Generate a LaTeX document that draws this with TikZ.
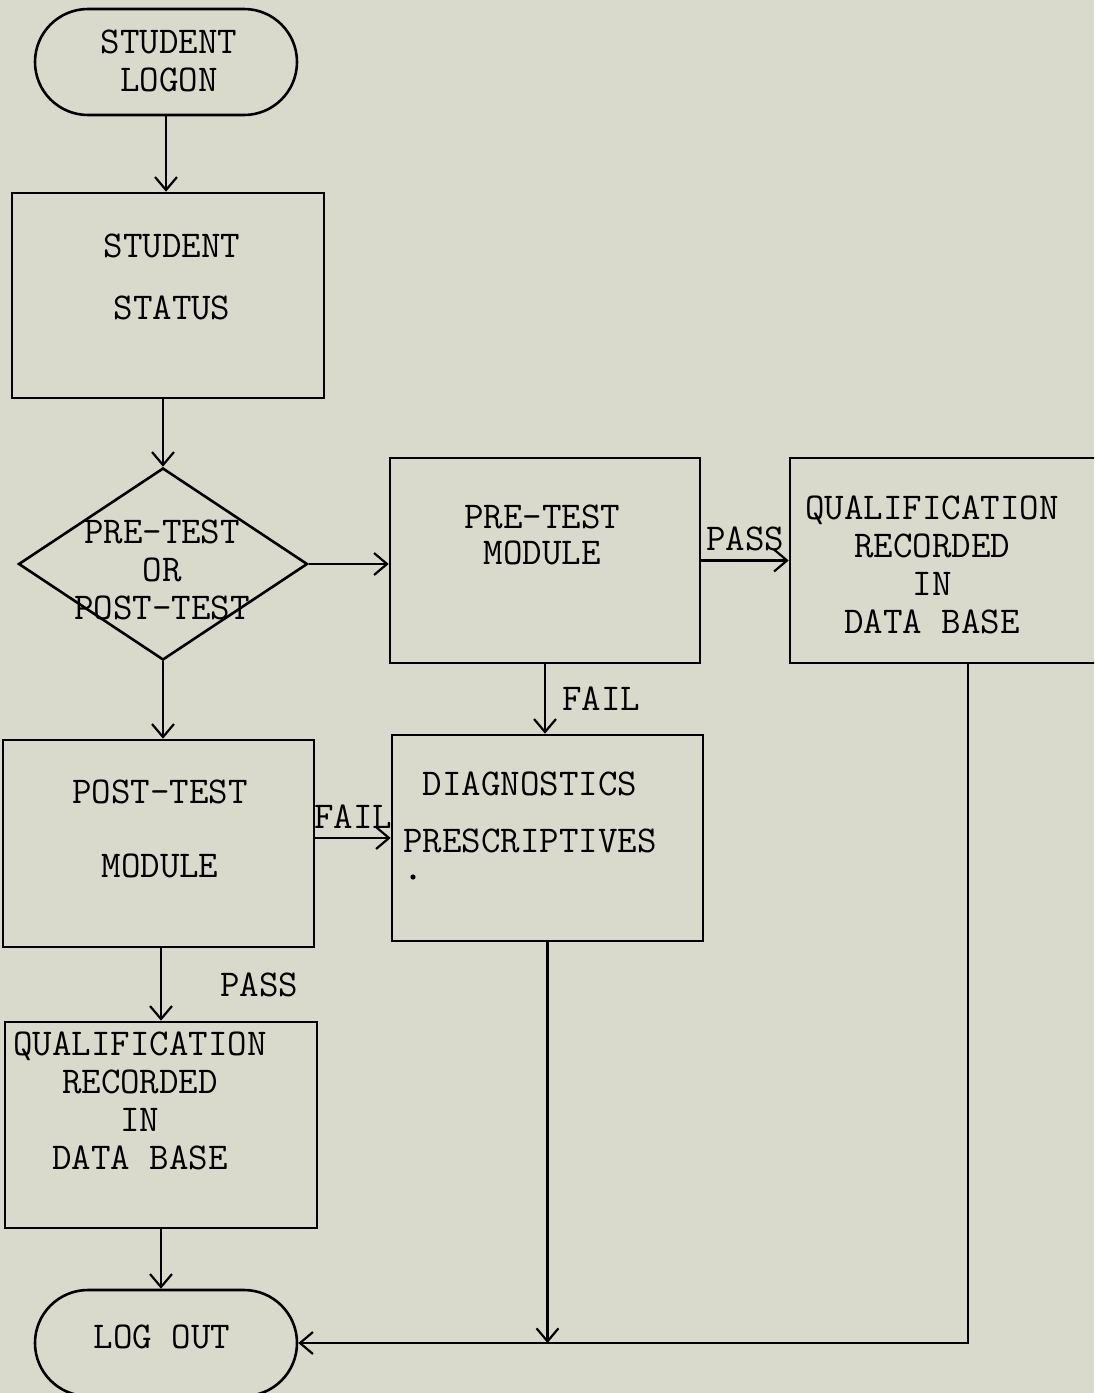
\documentclass[tikz,border=0pt]{standalone}
\usetikzlibrary{shapes.geometric, shapes.misc, arrows.meta}
\definecolor{paper}{RGB}{217,218,203}

\begin{document}
\begin{tikzpicture}[
    x=0.5bp, y=-0.5bp,
    every node/.style={font=\fontsize{19}{19}\ttfamily\selectfont},
    terminal/.style={
        rounded rectangle,
        draw=black,
        line width=1.3pt,
        minimum width=131bp,
        minimum height=53bp,
        inner sep=0pt
    },
    process/.style={
        rectangle,
        draw=black,
        line width=1.3pt,
        inner sep=0pt
    },
    decision/.style={
        diamond,
        draw=black,
        line width=1.3pt,
        minimum width=144.5bp,
        minimum height=96bp,
        inner sep=0pt
    },
    txt/.style={
        align=center,
        inner sep=0pt
    },
    flowlabel/.style={
        inner sep=0pt
    },
    arrow/.style={
        -{Straight Barb[length=6.5pt,width=11pt]},
        line width=1.1pt,
        black
    }
]

% paper
\fill[paper] (0,0) rectangle (1094,1393);
\useasboundingbox (0,0) rectangle (1094,1393);
\clip (0,0) rectangle (1094,1393);

% ============================================
% Shapes
% ============================================
\node[terminal] (start) at (166,62) {};
\node[process, minimum width=156bp, minimum height=102.5bp] (status) at (168,295.5) {};
\node[decision] (dec) at (163,564) {};
\node[process, minimum width=155bp, minimum height=102.5bp] (pre) at (545,560.5) {};
\node[process, minimum width=154bp, minimum height=102.5bp] (qualR) at (944,560.5) {};
\node[process, minimum width=155.5bp, minimum height=103bp] (diag) at (547.5,838) {};
\node[process, minimum width=155.5bp, minimum height=103.5bp] (post) at (158.5,843.5) {};
\node[process, minimum width=156bp, minimum height=103bp] (qualL) at (161,1125) {};
\node[terminal] (logout) at (166,1343) {};

% Texts
\node[txt] (starttxt) at (169,61) {STUDENT\\LOGON};
\node[txt] (statustxt) at (172,277) {STUDENT\\[12.5pt]STATUS};
\node[txt] (dectxt) at (162,570) {PRE-TEST\\OR\\POST-TEST};
\node[txt] (pretxt) at (542,535) {PRE-TEST\\[-1pt]MODULE};
\node[txt] (qualRtxt) at (932,565) {QUALIFICATION\\RECORDED\\IN\\DATA BASE};
\node[txt] (diagtxt) at (530,812.5) {DIAGNOSTICS\\[9.5pt]PRESCRIPTIVES};
\node[txt] (posttxt) at (160,829) {POST-TEST\\[18.5pt]MODULE};
\node[txt] (qualLtxt) at (140,1101) {QUALIFICATION\\RECORDED\\IN\\DATA BASE};
\node[txt] (logouttxt) at (162,1337) {LOG OUT};

\fill (413,877) circle (1.3pt);

% ============================================
% Connectors
% ============================================
\coordinate (turn) at (968,1343);
\coordinate (join) at (diag.south |- logout.east);

\draw[arrow] (start.south) -- (start.south |- status.north);
\draw[arrow] (status.south -| dec.north) -- (dec.north);
\draw[arrow] (dec.east) -- (dec.east -| pre.west);
\draw[arrow] (pre.east) -- node[flowlabel, above=4bp, midway] {PASS} (qualR.west);
\draw[arrow] (pre.south) -- node[flowlabel, right=8bp, midway] {FAIL} (pre.south |- diag.north);
\draw[arrow] (dec.south) -- (dec.south |- post.north);
\draw[arrow] (diag.west -| post.east) -- node[flowlabel, above=4bp, midway] {FAIL} (diag.west);
\draw[arrow] (qualL.north |- post.south) -- node[flowlabel, right=29bp, midway] {PASS} (qualL.north);
\draw[arrow] (qualL.south) -- (qualL.south |- logout.north);
\draw[arrow] (qualR.south -| turn) -- (turn) -- (logout.east);
\draw[arrow] (diag.south) -- (join);

\end{tikzpicture}
\end{document}
